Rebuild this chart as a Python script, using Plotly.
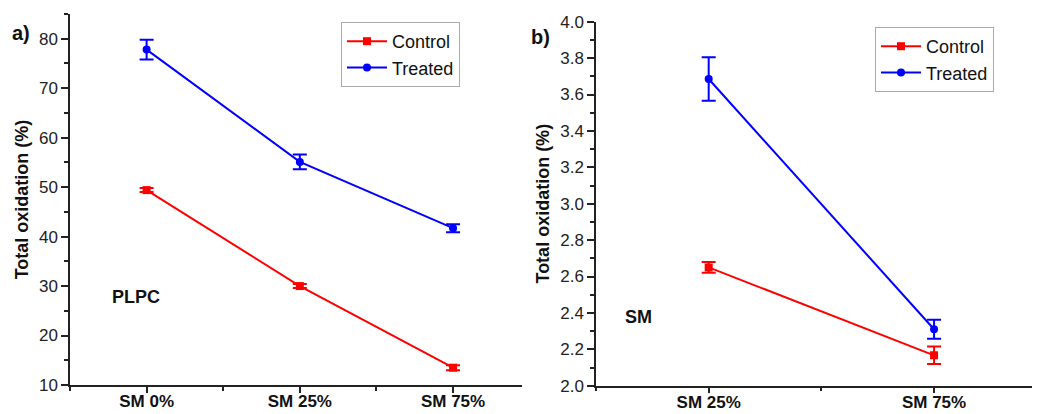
import plotly.graph_objects as go

# Panel a (PLPC)
cats_a = ["SM 0%", "SM 25%", "SM 75%"]
control_a = [49.4, 30.0, 13.5]
control_a_err = [0.4, 0.4, 0.5]
treated_a = [77.8, 55.1, 41.7]
treated_a_err = [2.0, 1.5, 0.8]

# Panel b (SM)
cats_b = ["SM 25%", "SM 75%"]
control_b = [2.65, 2.167]
control_b_err = [0.03, 0.048]
treated_b = [3.685, 2.31]
treated_b_err = [0.12, 0.052]

RED = "#ff0000"
BLUE = "#0000ff"
FONT = "Liberation Sans, Arial, sans-serif"

xa = list(range(len(cats_a)))
xb = list(range(len(cats_b)))

fig = go.Figure()

def add(x, y, err, name, color, symbol, xaxis, yaxis, legend):
    fig.add_trace(go.Scatter(
        x=x, y=y, name=name, mode="lines+markers",
        line=dict(color=color, width=2),
        marker=dict(color=color, symbol=symbol, size=8),
        error_y=dict(type="data", array=err, visible=True, color=color,
                     thickness=2, width=7),
        xaxis=xaxis, yaxis=yaxis, legend=legend,
    ))

add(xa, control_a, control_a_err, "Control", RED, "square", "x", "y", "legend")
add(xa, treated_a, treated_a_err, "Treated", BLUE, "circle", "x", "y", "legend")
add(xb, control_b, control_b_err, "Control", RED, "square", "x2", "y2", "legend2")
add(xb, treated_b, treated_b_err, "Treated", BLUE, "circle", "x2", "y2", "legend2")

# page body has an 8px margin: figure offset by it, reaching the window's right/bottom edge
OFF = 8
W, H = 1040 - OFF, 414 - OFF

def fx(px):
    return (px - OFF) / W

def fy(py):
    return (H - (py - OFF)) / H

axis_common = dict(
    showline=True, linecolor="#222", linewidth=1.5, mirror=False,
    showgrid=False, zeroline=False, ticks="outside",
    tickwidth=1.5, tickcolor="#222", automargin=False,
)
minor_common = dict(ticks="outside", ticklen=4, tickcolor="#222", tickwidth=1.5)

ylab_font = dict(family=FONT, size=17, color="#222")
xlab_font = dict(family=FONT, size=17, color="#111", weight="bold")
title_font = dict(family=FONT, size=18, color="#111", weight="bold")

fig.update_layout(
    width=W, height=H, autosize=False,
    margin=dict(l=0, r=0, t=0, b=0),
    paper_bgcolor="white", plot_bgcolor="white",
    showlegend=True,
    xaxis=dict(
        domain=[fx(70), fx(522)], range=[-0.5, 2.45], anchor="y",
        tickvals=xa, ticktext=cats_a, tickfont=xlab_font, ticklen=6,
        ticklabelstandoff=-6,
        minor=dict(dtick=0.5, tick0=0, **minor_common),
        **axis_common,
    ),
    yaxis=dict(
        domain=[fy(385), fy(14)], range=[10, 85], anchor="x",
        tickvals=[10, 20, 30, 40, 50, 60, 70, 80], tickfont=ylab_font, ticklen=7,
        minor=dict(dtick=5, tick0=0, **minor_common),
        title=dict(text="Total oxidation (%)", font=title_font, standoff=6),
        **axis_common,
    ),
    xaxis2=dict(
        domain=[fx(596), 1.0], range=[-0.5, 1.47], anchor="y2",
        tickvals=xb, ticktext=cats_b, tickfont=xlab_font, ticklen=6,
        ticklabelstandoff=-6,
        minor=dict(dtick=0.5, tick0=0, **minor_common),
        **axis_common,
    ),
    yaxis2=dict(
        domain=[fy(385.7), fy(21.7)], range=[2.0, 4.0], anchor="x2",
        tickvals=[2.0, 2.2, 2.4, 2.6, 2.8, 3.0, 3.2, 3.4, 3.6, 3.8, 4.0],
        tickformat=".1f", tickfont=ylab_font, ticklen=7,
        minor=dict(dtick=0.1, tick0=0, **minor_common),
        title=dict(text="Total oxidation (%)", font=title_font, standoff=6),
        **axis_common,
    ),
    legend=dict(
        x=fx(341), y=fy(22), xanchor="left", yanchor="top",
        bgcolor="white", bordercolor="#aaaaaa", borderwidth=1,
        font=dict(family=FONT, size=18, color="#111"),
        tracegroupgap=0, itemwidth=40,
    ),
    legend2=dict(
        x=fx(875), y=fy(27), xanchor="left", yanchor="top",
        bgcolor="white", bordercolor="#aaaaaa", borderwidth=1,
        font=dict(family=FONT, size=18, color="#111"),
        tracegroupgap=0, itemwidth=40,
    ),
    annotations=[
        dict(text="a)", x=fx(10), y=fy(33), xref="paper", yref="paper",
             xanchor="left", yanchor="middle", showarrow=False,
             font=dict(family=FONT, size=20, color="#111", weight="bold")),
        dict(text="b)", x=fx(529), y=fy(37), xref="paper", yref="paper",
             xanchor="left", yanchor="middle", showarrow=False,
             font=dict(family=FONT, size=20, color="#111", weight="bold")),
        dict(text="PLPC", x=fx(110), y=fy(297), xref="paper", yref="paper",
             xanchor="left", yanchor="middle", showarrow=False,
             font=dict(family=FONT, size=18, color="#111", weight="bold")),
        dict(text="SM", x=fx(623), y=fy(317), xref="paper", yref="paper",
             xanchor="left", yanchor="middle", showarrow=False,
             font=dict(family=FONT, size=18, color="#111", weight="bold")),
    ],
)

fig.write_html("out.html")
